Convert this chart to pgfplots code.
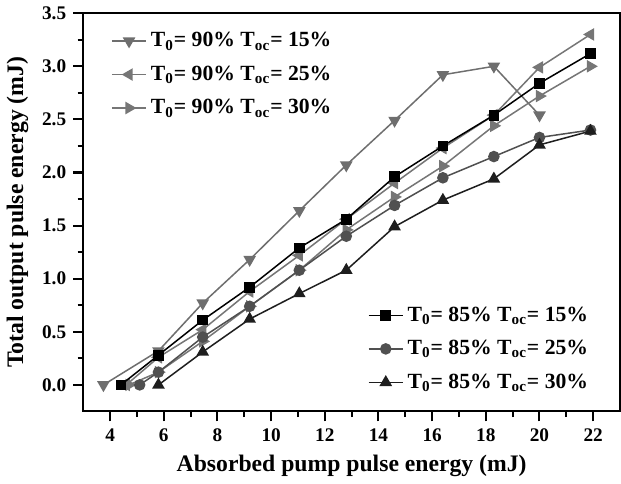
\documentclass[border=0pt]{standalone}
\usepackage{fontspec}
\setmainfont{Liberation Serif}
\usepackage{pgfplots}
\pgfplotsset{compat=1.18}
\definecolor{grayA}{HTML}{6E6E6E}
\definecolor{grayB}{HTML}{767676}
\definecolor{grayC}{HTML}{505050}
\definecolor{darkD}{HTML}{1E1E1E}

\pgfplotsset{
  frame/.style={
    scale only axis, width=267.5pt, height=198.5pt,
    xmin=3, xmax=23, ymin=-0.25, ymax=3.5,
  },
  every axis plot/.append style={line width=0.75pt, mark size=2.9pt},
}

\begin{document}
\begin{tikzpicture}
  \begin{axis}[frame,
    axis line style={line width=1pt},
    xtick={4,6,...,22}, ytick={0,0.5,...,3.5},
    minor x tick num=1, minor y tick num=1,
    tick align=outside, xtick pos=left, ytick pos=left,
    major tick length=5pt, minor tick length=2.8pt,
    every tick/.style={black, line width=1pt},
    /pgf/number format/assume math mode=true,
    yticklabel style={/pgf/number format/.cd, fixed, fixed zerofill, precision=1},
    tick label style={font=\fontsize{9.6}{11}\selectfont\bfseries},
    label style={font=\fontsize{11.8}{13}\selectfont\bfseries},
    xlabel={Absorbed pump pulse energy (mJ)},
    ylabel={Total output pulse energy (mJ)},
    legend style={draw=none, fill=none, at={(0.04,0.973)}, anchor=north west,
      font=\fontsize{10.8}{12}\selectfont\bfseries, row sep=4pt},
    legend cell align=left,
  ]
    % T0 = 90%
    \addplot[grayA, mark=triangle*, mark options={rotate=180}] coordinates
      {(3.75,0) (5.8,0.32) (7.45,0.77) (9.2,1.18) (11.05,1.64) (12.8,2.07)
       (14.6,2.49) (16.4,2.92) (18.3,3.00) (20.0,2.54)};
    \addlegendentry{T\textsubscript{0}= 90\% T\textsubscript{oc}= 15\%}
    \addplot[grayB, mark=triangle*, mark options={rotate=90}] coordinates
      {(4.6,0) (5.8,0.26) (7.45,0.52) (9.2,0.88) (11.05,1.22) (12.8,1.56)
       (14.6,1.90) (16.4,2.23) (18.3,2.54) (20.0,2.99) (21.9,3.30)};
    \addlegendentry{T\textsubscript{0}= 90\% T\textsubscript{oc}= 25\%}
    \addplot[grayB, mark=triangle*, mark options={rotate=-90}] coordinates
      {(4.7,0) (5.8,0.12) (7.45,0.41) (9.2,0.74) (11.05,1.08) (12.8,1.46)
       (14.6,1.77) (16.4,2.06) (18.3,2.44) (20.0,2.72) (21.9,3.00)};
    \addlegendentry{T\textsubscript{0}= 90\% T\textsubscript{oc}= 30\%}
  \end{axis}
  \begin{axis}[frame, hide axis,
    legend style={draw=none, fill=none, at={(0.96,0.03)}, anchor=south east,
      font=\fontsize{10.8}{12}\selectfont\bfseries, row sep=4pt},
    legend cell align=left,
  ]
    % T0 = 85%
    \addplot[black, mark=square*, mark size=2.3pt] coordinates
      {(4.4,0) (5.8,0.28) (7.45,0.61) (9.2,0.92) (11.05,1.29) (12.8,1.56)
       (14.6,1.96) (16.4,2.25) (18.3,2.54) (20.0,2.84) (21.9,3.12)};
    \addlegendentry{T\textsubscript{0}= 85\% T\textsubscript{oc}= 15\%}
    \addplot[grayC, mark=*, mark size=2.5pt] coordinates
      {(5.1,0) (5.8,0.12) (7.45,0.45) (9.2,0.74) (11.05,1.08) (12.8,1.40)
       (14.6,1.69) (16.4,1.95) (18.3,2.15) (20.0,2.33) (21.9,2.40)};
    \addlegendentry{T\textsubscript{0}= 85\% T\textsubscript{oc}= 25\%}
    \addplot[darkD, mark=triangle*] coordinates
      {(5.8,0) (7.45,0.31) (9.2,0.62) (11.05,0.86) (12.8,1.08) (14.6,1.49)
       (16.4,1.74) (18.3,1.94) (20.0,2.26) (21.9,2.39)};
    \addlegendentry{T\textsubscript{0}= 85\% T\textsubscript{oc}= 30\%}
  \end{axis}
\end{tikzpicture}
\end{document}
